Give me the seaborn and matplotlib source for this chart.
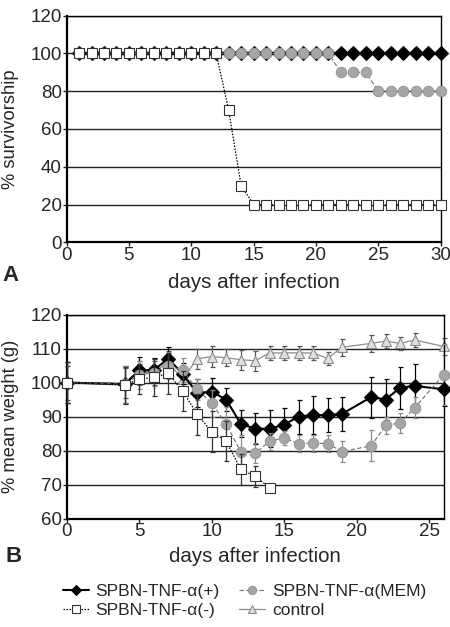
import matplotlib
matplotlib.use("Agg")
import matplotlib.pyplot as plt
import numpy as np
import seaborn as sns

# survivorship (panel A)
surv_days = list(range(1, 31))
surv_plus = [100] * 30
surv_mem = [100] * 21 + [90] * 3 + [80] * 6
surv_minus = [100] * 12 + [70, 30] + [20] * 16

# mean weight (panel B)
wt_days = [0, 4, 5, 6, 7, 8, 9, 10, 11, 12, 13, 14, 15, 16, 17, 18, 19, 21, 22, 23, 24, 26]
wt_plus = [100, 99.5, 103.6, 103.6, 107.0, 102.6, 96.9, 97.3, 95.0, 87.9, 86.4, 86.4, 87.6,
           90.0, 90.4, 90.4, 90.8, 95.7, 95.0, 98.5, 99.0, 98.0]
wt_plus_err = [6, 5.5, 4, 3.5, 3.5, 3, 4, 4, 3.5, 4, 4.5, 5.5, 5, 5, 5.5, 5, 5, 6, 6, 6.2, 6.5, 5]
wt_mem = [100, 99.5, 102.2, 102.9, 105.0, 103.6, 98.0, 93.9, 87.8, 79.7, 79.2, 82.7, 83.7,
          82.0, 82.2, 82.0, 79.7, 81.4, 87.4, 88.1, 92.6, 102.3]
wt_mem_err = [6, 5.5, 4, 4, 4, 3.5, 3, 4, 5, 5, 3, 2.5, 2, 2.5, 2.5, 2.5, 3, 4.5, 2.5, 3, 3, 9]
wt_minus_days = wt_days[:12]
wt_minus = [100, 99.2, 101.0, 101.5, 102.7, 97.5, 90.7, 85.5, 82.8, 74.5, 72.4, 69.1]
wt_minus_err = [6, 5.5, 4.5, 5.5, 6, 6, 6, 6, 6, 4.5, 3, 0]
wt_ctrl = [100, 99.8, 102.9, 102.9, 105.9, 101.0, 107.0, 107.6, 107.3, 106.7, 106.4, 108.7,
           108.7, 108.7, 108.7, 107.1, 110.4, 111.5, 112.2, 111.5, 112.5, 110.6]
wt_ctrl_err = [5, 4.5, 3.5, 3.5, 3.5, 3, 3, 3, 2.5, 3, 3, 2, 2, 2, 2, 2, 2.5, 2.5, 2, 2, 2, 2.5]

labels = ["SPBN-TNF-\u03b1(+)", "SPBN-TNF-\u03b1(MEM)", "SPBN-TNF-\u03b1(-)", "control"]

sns.set_style("ticks")
plt.rcParams["font.family"] = ["Liberation Sans", "DejaVu Sans"]

STY = {
    "plus": dict(color="black", lw=1.5, ls="-", marker="D", ms=7, mfc="black", mec="black"),
    "mem": dict(color="#6e6e6e", lw=0.8, ls=(0, (4, 2)), marker="o", ms=7.5, mfc="#a6a6a6", mec="#969696"),
    "minus": dict(color="black", lw=0.9, ls=(0, (1.2, 1.2)), marker="s", ms=7.5, mfc="white", mec="#333333", mew=0.8),
    "ctrl": dict(color="#8c8c8c", lw=0.9, ls="-", marker="^", ms=7, mfc="#e0e0e0", mec="#8c8c8c", mew=0.8),
}

fig = plt.figure(figsize=(4.5, 6.27), dpi=100)
ax1 = fig.add_axes([0.148, 0.6136, 0.831, 0.3614])
ax2 = fig.add_axes([0.148, 0.1730, 0.838, 0.3254])


def style_axis(ax, yticks):
    for y in yticks:
        ax.axhline(y, color="#222222", lw=1.0, zorder=0)
    for sp in ax.spines.values():
        sp.set_visible(True)
        sp.set_color("black")
    ax.spines["left"].set_linewidth(1.6)
    ax.spines["bottom"].set_linewidth(1.6)
    ax.spines["top"].set_linewidth(1.0)
    ax.spines["right"].set_linewidth(1.0)
    ax.set_yticks(yticks)
    ax.tick_params(axis="both", labelsize=13.5, direction="out", length=3, width=1, pad=0.5)


def finish_lines(ax):
    for ln in ax.get_lines():
        ln.set_clip_on(False)


# panel A
sns.lineplot(x=surv_days, y=surv_plus, ax=ax1, zorder=3, **STY["plus"])
sns.lineplot(x=surv_days, y=surv_mem, ax=ax1, zorder=4, **STY["mem"])
sns.lineplot(x=surv_days, y=surv_minus, ax=ax1, zorder=5, **STY["minus"])
finish_lines(ax1)
ax1.set_xlim(0, 30)
ax1.set_ylim(0, 120)
ax1.set_xticks(range(0, 31, 5))
style_axis(ax1, range(0, 121, 20))
ax1.set_ylabel("% survivorship", fontsize=13.2)
ax1.set_xlabel("days after infection", fontsize=14.8)
ax1.yaxis.set_label_coords(-0.128, 0.5)
ax1.xaxis.set_label_coords(0.5, -0.135)

# panel B
series = [
    (wt_days, wt_plus, wt_plus_err, "plus", "black", 3, labels[0]),
    (wt_days, wt_mem, wt_mem_err, "mem", "#8a8a8a", 4, labels[1]),
    (wt_minus_days, wt_minus, wt_minus_err, "minus", "#333333", 5, labels[2]),
    (wt_days, wt_ctrl, wt_ctrl_err, "ctrl", "#555555", 2, labels[3]),
]
for xs, ys, es, key, ecol, z, lab in series:
    ax2.errorbar(xs, ys, yerr=es, fmt="none", ecolor=ecol, elinewidth=0.9,
                 capsize=1.8, capthick=0.9, zorder=z - 0.5)
    sns.lineplot(x=xs, y=ys, ax=ax2, zorder=z, label=lab, legend=False, **STY[key])
finish_lines(ax2)
ax2.set_xlim(0, 26)
ax2.set_ylim(60, 120)
ax2.set_xticks(range(0, 26, 5))
style_axis(ax2, range(60, 121, 10))
ax2.set_ylabel("% mean weight (g)", fontsize=13.2)
ax2.set_xlabel("days after infection", fontsize=14.8)
ax2.yaxis.set_label_coords(-0.126, 0.5)
ax2.xaxis.set_label_coords(0.5, -0.14)

fig.text(0.024, 0.561, "A", fontsize=16, fontweight="bold", ha="center", va="center")
fig.text(0.031, 0.113, "B", fontsize=16, fontweight="bold", ha="center", va="center")

h, l = ax2.get_legend_handles_labels()
order = [0, 2, 1, 3]
fig.legend([h[i] for i in order], [l[i] for i in order], ncol=2, loc="upper left",
           bbox_to_anchor=(0.12, 0.083), frameon=False, fontsize=12.5, borderpad=0,
           handlelength=1.5, handletextpad=0.4, columnspacing=1.1, labelspacing=0.25,
           markerscale=0.8)

fig.savefig("out.png", dpi=100)
